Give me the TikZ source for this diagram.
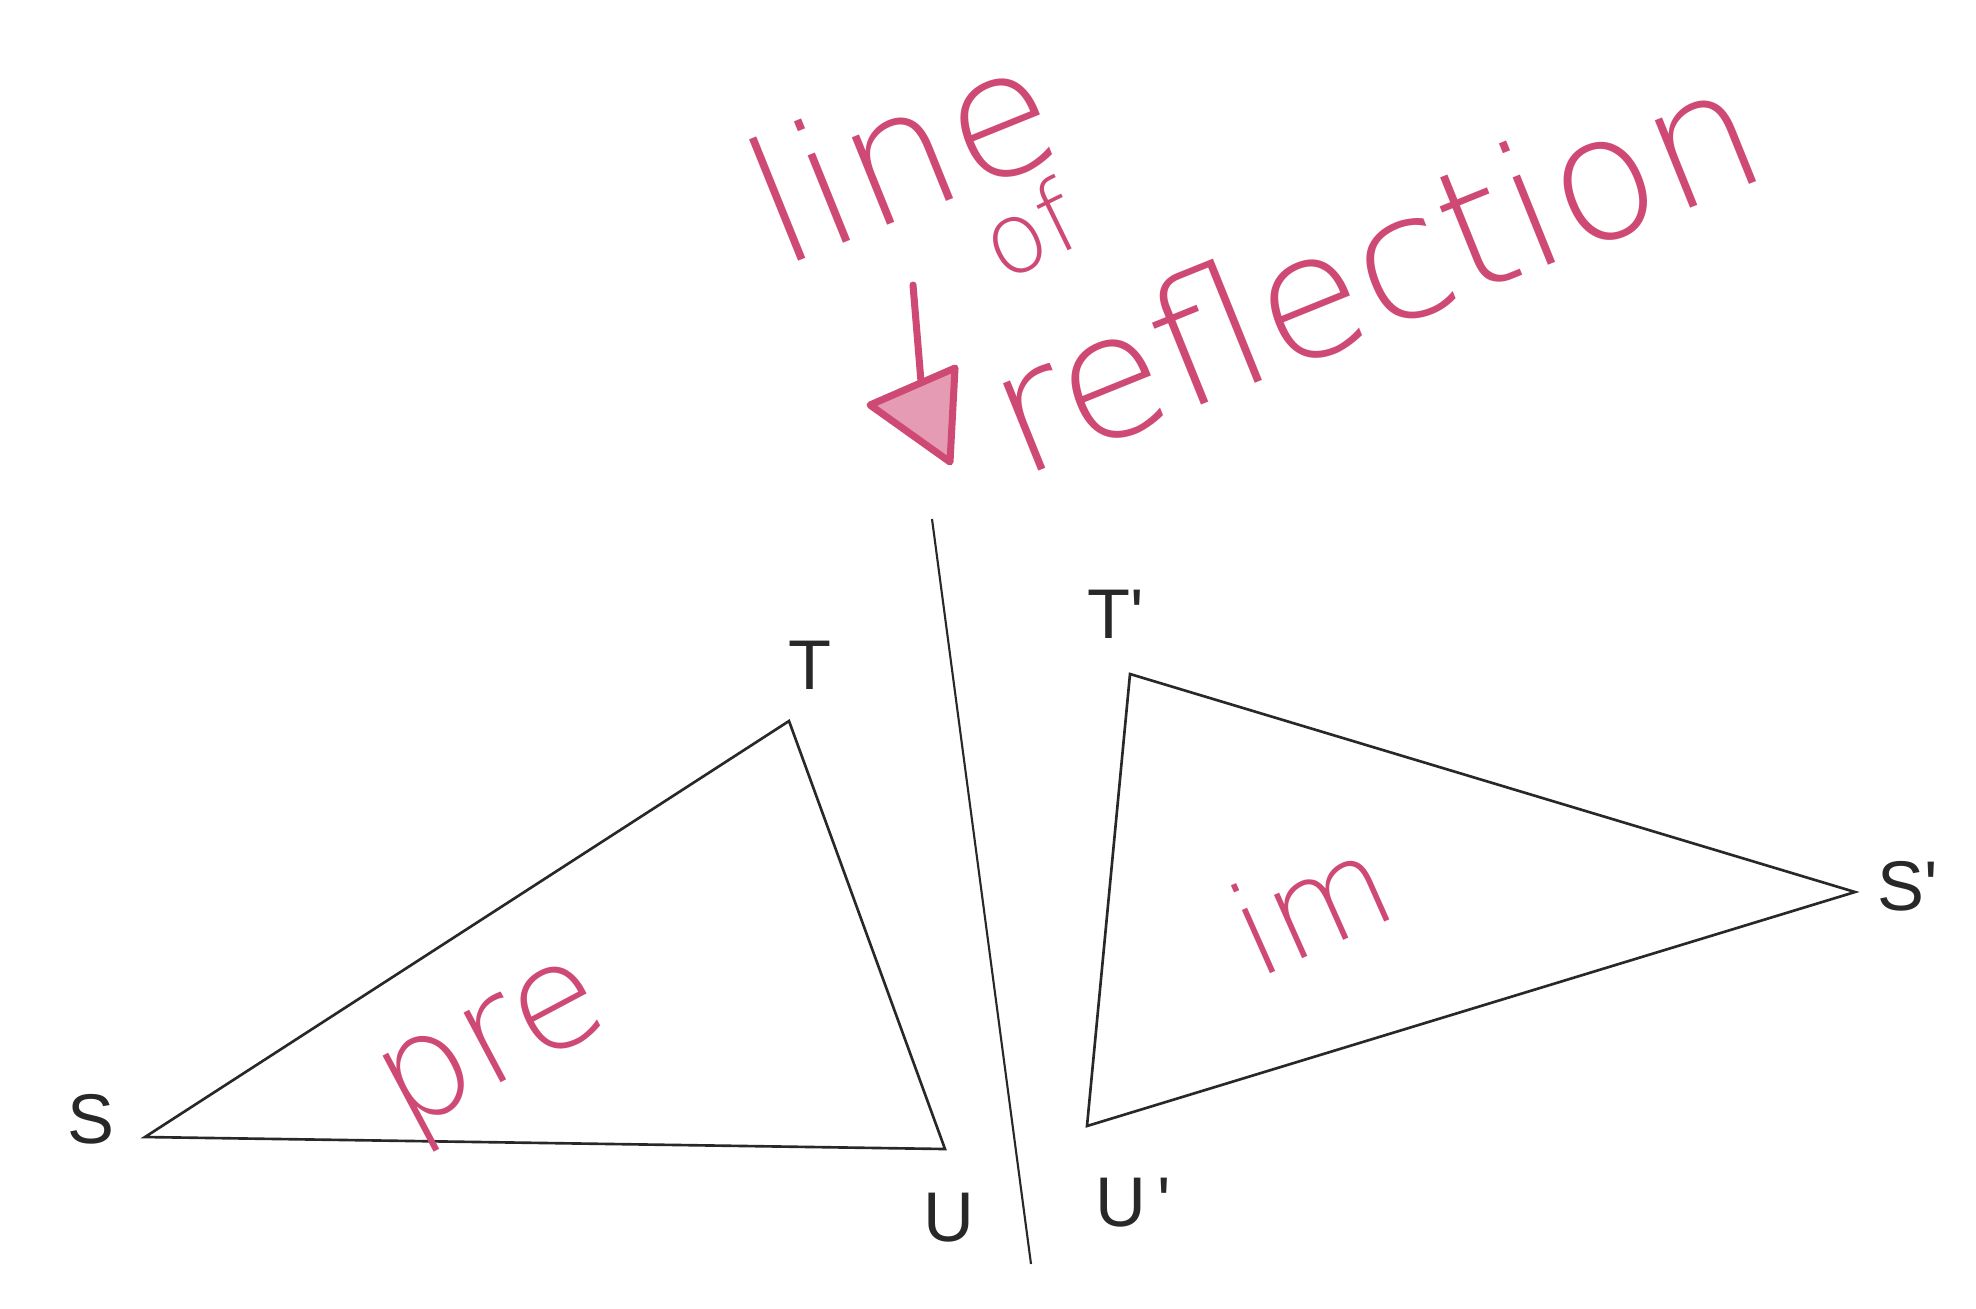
\documentclass[tikz,border=0pt]{standalone}
\usepackage{fontspec}
\setmainfont{Liberation Sans}
\newfontfamily\handfont{DejaVu Sans ExtraLight}
\definecolor{pen}{RGB}{206,74,116}
\definecolor{ink}{RGB}{40,40,40}
\begin{document}
\begin{tikzpicture}[x=0.01cm,y=-0.01cm,
  edge/.style={line width=0.75pt, draw=ink, line join=miter},
  mirror/.style={line width=0.6pt, draw=ink},
  vlabel/.style={font=\fontsize{20}{24}\selectfont, text=ink, inner sep=0pt},
  hand/.style={text=pen, inner sep=0pt},
  penstroke/.style={draw=pen, line width=2pt, line cap=round, line join=round}]
\useasboundingbox[fill=white] (0,0) rectangle (1976,1308);
% pre-image
\coordinate (S) at (145,1137);
\coordinate (T) at (789,721);
\coordinate (U) at (945,1149);
% image
\coordinate (T2) at (1130,674);
\coordinate (S2) at (1855,892);
\coordinate (U2) at (1087,1126);
% line of reflection
\coordinate (L1) at (932,519);
\coordinate (L2) at (1031,1264);
\draw[edge] (S) -- (T) -- (U) -- cycle;
\draw[edge] (T2) -- (S2) -- (U2) -- cycle;
\draw[mirror] (L1) -- (L2);
% vertex labels
\node[vlabel] (lS) at (91,1119) {S};
\node[vlabel] (lT) at (810,665) {T};
\node[vlabel] (lU) at (949,1218) {U};
\node[vlabel] (lT2) at (1116,614) {T\textquotesingle};
\node[vlabel] (lU2) at (1133,1203) {U\,\textquotesingle};
\node[vlabel] (lS2) at (1908,886) {S\textquotesingle};
% handwritten notes
\node[hand, rotate=22, font=\handfont\fontsize{49}{55}\selectfont] (wline) at (901,151) {line};
\node[hand, rotate=26, font=\handfont\fontsize{28}{32}\selectfont] (wof) at (1029,229) {of};
\node[hand, rotate=22, font=\handfont\fontsize{49}{55}\selectfont] (wrefl) at (1373,267) {reflection};
\node[hand, rotate=28, font=\handfont\fontsize{41}{46}\selectfont] (wpre) at (498,1056) {pre};
\node[hand, rotate=24, font=\handfont\fontsize{36}{40}\selectfont] (wim) at (1310,903) {im};
% hand-drawn arrow
\coordinate (A0) at (913,285);
\coordinate (A1) at (925,430);
\coordinate (AL) at (870,405);
\coordinate (AR) at (955,368);
\coordinate (AT) at (950,462);
\draw[penstroke] (A0) -- (A1);
\draw[penstroke, fill=pen!55] (AL) -- (AR) -- (AT) -- cycle;
\end{tikzpicture}
\end{document}
